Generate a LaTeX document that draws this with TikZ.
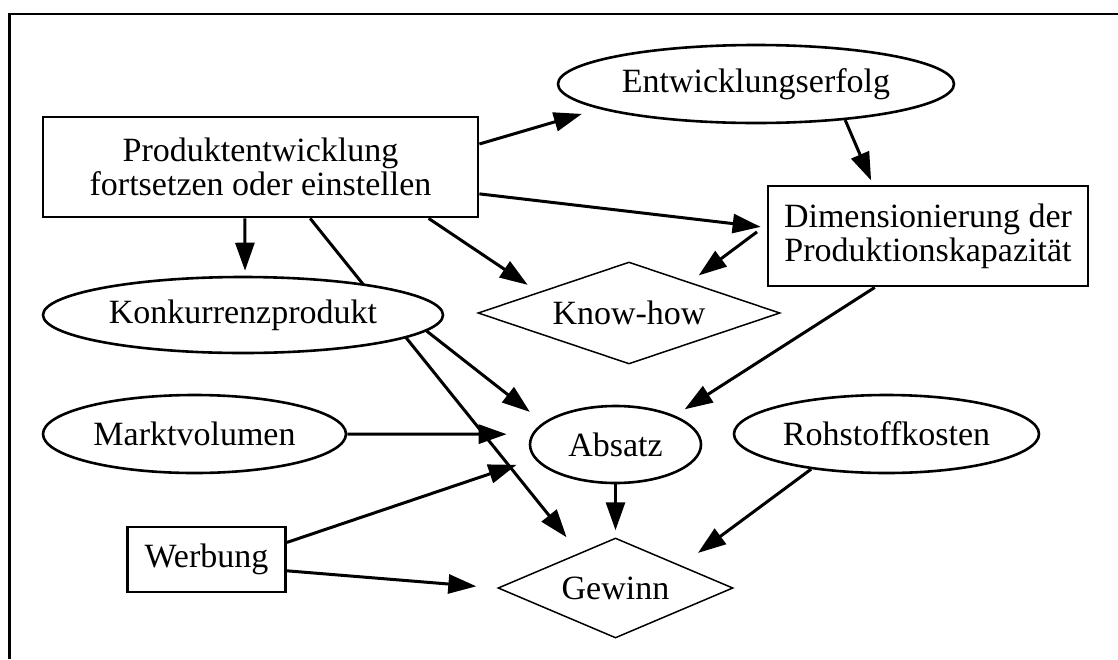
\documentclass[tikz,border=0pt]{standalone}
\usepackage{fontspec}
\setmainfont{Liberation Serif}
\usetikzlibrary{shapes.geometric,arrows.meta}
\pgfdeclarelayer{background}
\pgfsetlayers{background,main}
\begin{document}
\begin{tikzpicture}[x=1pt,y=-1pt,
  every node/.style={font=\fontsize{34}{34}\selectfont, inner sep=0pt, fill=white},
  box/.style={draw, rectangle, line width=2.8pt, align=center},
  oval/.style={draw, ellipse, line width=2.6pt},
  rhomb/.style={draw, diamond, aspect=3.5, line width=1.5pt},
  link/.style={line width=3pt, -{Triangle[length=28pt,width=19pt]}},
]
\useasboundingbox (0,0) rectangle (1118,659);

% frame (top and left edges)
\draw[line width=2.8pt] (9.5,659) -- (9.5,14) -- (1118,14);

% nodes
\node[box, minimum width=435pt, minimum height=100pt] (prod) at (260.5,167)
  {Produktentwicklung\\fortsetzen oder einstellen};
\node[oval, minimum width=396pt, minimum height=78pt] (entw) at (756,84) {Entwicklungserfolg};
\node[box, minimum width=320pt, minimum height=100pt] (dim) at (928,236)
  {Dimensionierung der\\Produktionskapazität};
\node[oval, minimum width=400pt, minimum height=76pt] (konk) at (243,315) {Konkurrenzprodukt};
\node[rhomb, minimum width=302pt, minimum height=102pt] (know) at (629,313) {Know-how};
\node[oval, minimum width=303pt, minimum height=78pt] (markt) at (194.5,434) {Marktvolumen};
\node[oval, minimum width=171pt, minimum height=77pt] (absatz) at (615.5,444.5) {Absatz};
\node[oval, minimum width=305pt, minimum height=78pt] (roh) at (886.5,434) {Rohstoffkosten};
\node[box, minimum width=158pt, minimum height=65pt] (werb) at (206.5,559.5) {Werbung};
\node[rhomb, minimum width=235pt, minimum height=100pt] (gew) at (615.5,588) {Gewinn};

% influences
\begin{pgfonlayer}{background}
\draw[link, shorten >=18pt] (prod.6) -- (entw.189);
\draw[link, shorten >=4.5pt] (entw.-22) -- (dim.137);
\draw[link, shorten >=6pt] (prod.-7) -- (dim.177);
\draw[link, shorten <=12pt, shorten >=11pt] (dim.176) -- (know.27);
\draw[link, shorten >=13pt] (prod.-17) -- (know.167);
\draw[link, shorten >=5pt] (prod.-107) -- (konk.87);
\draw[link, shorten >=20pt] (prod.-46) -- (gew.136);
\draw[link, shorten >=17pt] (konk.-5) -- (absatz.163);
\draw[link, shorten >=25pt] (markt.east) -- (absatz.173);
\draw[link, shorten >=19pt] (werb.12) -- (absatz.190);
\draw[link, shorten >=21pt] (werb.-8) -- (gew.west);
\draw[link, shorten >=7pt] (absatz.south) -- (gew.north);
\draw[link, shorten >=11.5pt] (dim.224) -- (absatz.26);
\draw[link, shorten >=21pt] (roh.205) -- (gew.19);
\end{pgfonlayer}
\end{tikzpicture}
\end{document}
